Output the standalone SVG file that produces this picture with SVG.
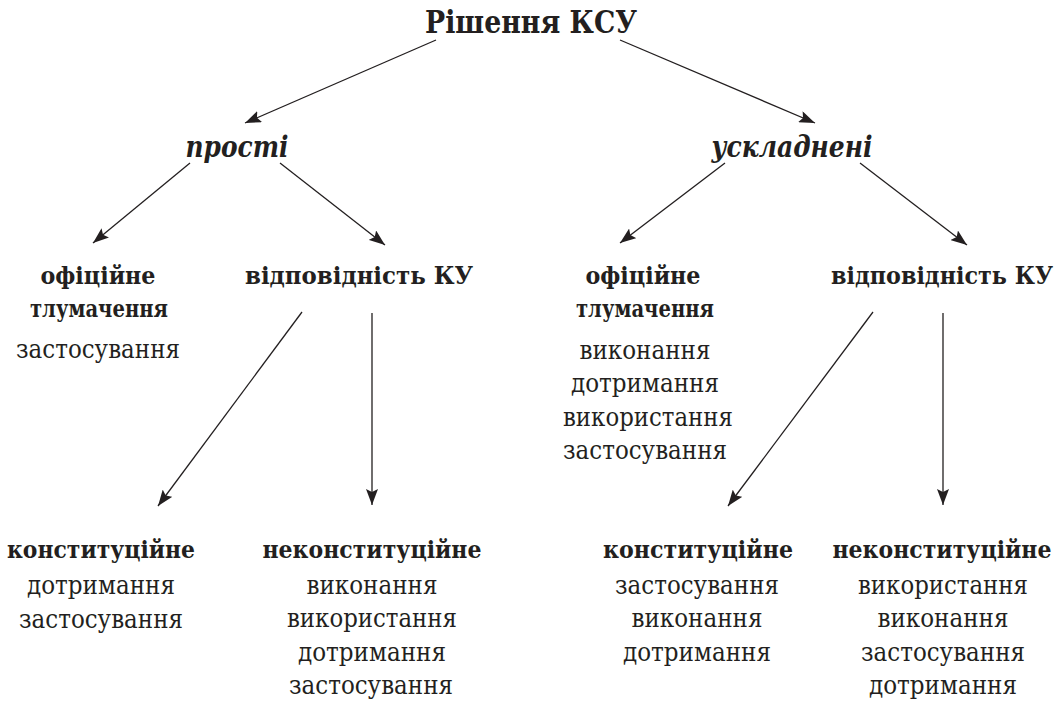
<svg xmlns="http://www.w3.org/2000/svg" width="1061" height="706" viewBox="0 0 1061 706">
<style>
.f{font-family:'DejaVu Serif',serif;fill:#231f20;text-anchor:middle}
.t{font-size:31px;font-weight:bold}
.i{font-size:29px;font-weight:bold;font-style:italic}
.b{font-size:25px;font-weight:bold}
.r{font-size:26px;font-weight:normal}
.c line{stroke:#231f20;stroke-width:1.3;marker-end:url(#ah)}
</style>
<defs>
<marker id="ah" markerUnits="userSpaceOnUse" markerWidth="18" markerHeight="12" refX="16" refY="6" orient="auto">
<path d="M0,0 L16,6 L0,12 L3,6 Z" fill="#231f20"/>
</marker>
</defs>
<rect width="1061" height="706" fill="#fff"/>
<g class="c" id="connectors">
<line x1="436" y1="40" x2="245" y2="123"/>
<line x1="620" y1="40" x2="815" y2="123"/>
<line x1="190" y1="163" x2="93" y2="243"/>
<line x1="280" y1="163" x2="385" y2="245"/>
<line x1="725" y1="163" x2="620" y2="243"/>
<line x1="860" y1="163" x2="967" y2="245"/>
<line x1="302" y1="312" x2="158" y2="506"/>
<line x1="372" y1="313" x2="372" y2="505"/>
<line x1="873" y1="312" x2="728" y2="506"/>
<line x1="943" y1="313" x2="943" y2="505"/>
</g>
<g id="root"><text class="f t" x="531" y="33" textLength="212" lengthAdjust="spacingAndGlyphs">Рішення КСУ</text></g>
<g id="prosti"><text class="f i" x="237" y="157" textLength="103" lengthAdjust="spacingAndGlyphs">прості</text></g>
<g id="uskladneni"><text class="f i" x="792" y="157" textLength="161" lengthAdjust="spacingAndGlyphs">ускладнені</text></g>
<g id="l-oficiine">
<text class="f b" x="98" y="284" textLength="115" lengthAdjust="spacingAndGlyphs">офіційне</text>
<text class="f b" x="99" y="317" textLength="138" lengthAdjust="spacingAndGlyphs">тлумачення</text>
<text class="f r" x="98" y="358" textLength="164" lengthAdjust="spacingAndGlyphs">застосування</text>
</g>
<g id="l-vidpovidnist"><text class="f b" x="359" y="284" textLength="228" lengthAdjust="spacingAndGlyphs">відповідність КУ</text></g>
<g id="r-oficiine">
<text class="f b" x="643" y="284" textLength="115" lengthAdjust="spacingAndGlyphs">офіційне</text>
<text class="f b" x="645" y="317" textLength="138" lengthAdjust="spacingAndGlyphs">тлумачення</text>
<text class="f r" x="645" y="359" textLength="131" lengthAdjust="spacingAndGlyphs">виконання</text>
<text class="f r" x="645" y="392" textLength="148" lengthAdjust="spacingAndGlyphs">дотримання</text>
<text class="f r" x="648" y="426" textLength="170" lengthAdjust="spacingAndGlyphs">використання</text>
<text class="f r" x="645" y="459" textLength="164" lengthAdjust="spacingAndGlyphs">застосування</text>
</g>
<g id="r-vidpovidnist"><text class="f b" x="942" y="284" textLength="222" lengthAdjust="spacingAndGlyphs">відповідність КУ</text></g>
<g id="l-konst">
<text class="f b" x="101" y="558" textLength="188" lengthAdjust="spacingAndGlyphs">конституційне</text>
<text class="f r" x="101" y="594" textLength="148" lengthAdjust="spacingAndGlyphs">дотримання</text>
<text class="f r" x="101" y="628" textLength="164" lengthAdjust="spacingAndGlyphs">застосування</text>
</g>
<g id="l-nekonst">
<text class="f b" x="372" y="558" textLength="219" lengthAdjust="spacingAndGlyphs">неконституційне</text>
<text class="f r" x="372" y="594" textLength="131" lengthAdjust="spacingAndGlyphs">виконання</text>
<text class="f r" x="372" y="627" textLength="170" lengthAdjust="spacingAndGlyphs">використання</text>
<text class="f r" x="372" y="661" textLength="148" lengthAdjust="spacingAndGlyphs">дотримання</text>
<text class="f r" x="371" y="694" textLength="164" lengthAdjust="spacingAndGlyphs">застосування</text>
</g>
<g id="r-konst">
<text class="f b" x="698" y="558" textLength="190" lengthAdjust="spacingAndGlyphs">конституційне</text>
<text class="f r" x="697" y="594" textLength="164" lengthAdjust="spacingAndGlyphs">застосування</text>
<text class="f r" x="697" y="627" textLength="131" lengthAdjust="spacingAndGlyphs">виконання</text>
<text class="f r" x="697" y="661" textLength="148" lengthAdjust="spacingAndGlyphs">дотримання</text>
</g>
<g id="r-nekonst">
<text class="f b" x="942" y="558" textLength="219" lengthAdjust="spacingAndGlyphs">неконституційне</text>
<text class="f r" x="943" y="594" textLength="170" lengthAdjust="spacingAndGlyphs">використання</text>
<text class="f r" x="943" y="627" textLength="131" lengthAdjust="spacingAndGlyphs">виконання</text>
<text class="f r" x="943" y="661" textLength="164" lengthAdjust="spacingAndGlyphs">застосування</text>
<text class="f r" x="943" y="694" textLength="148" lengthAdjust="spacingAndGlyphs">дотримання</text>
</g>
</svg>
